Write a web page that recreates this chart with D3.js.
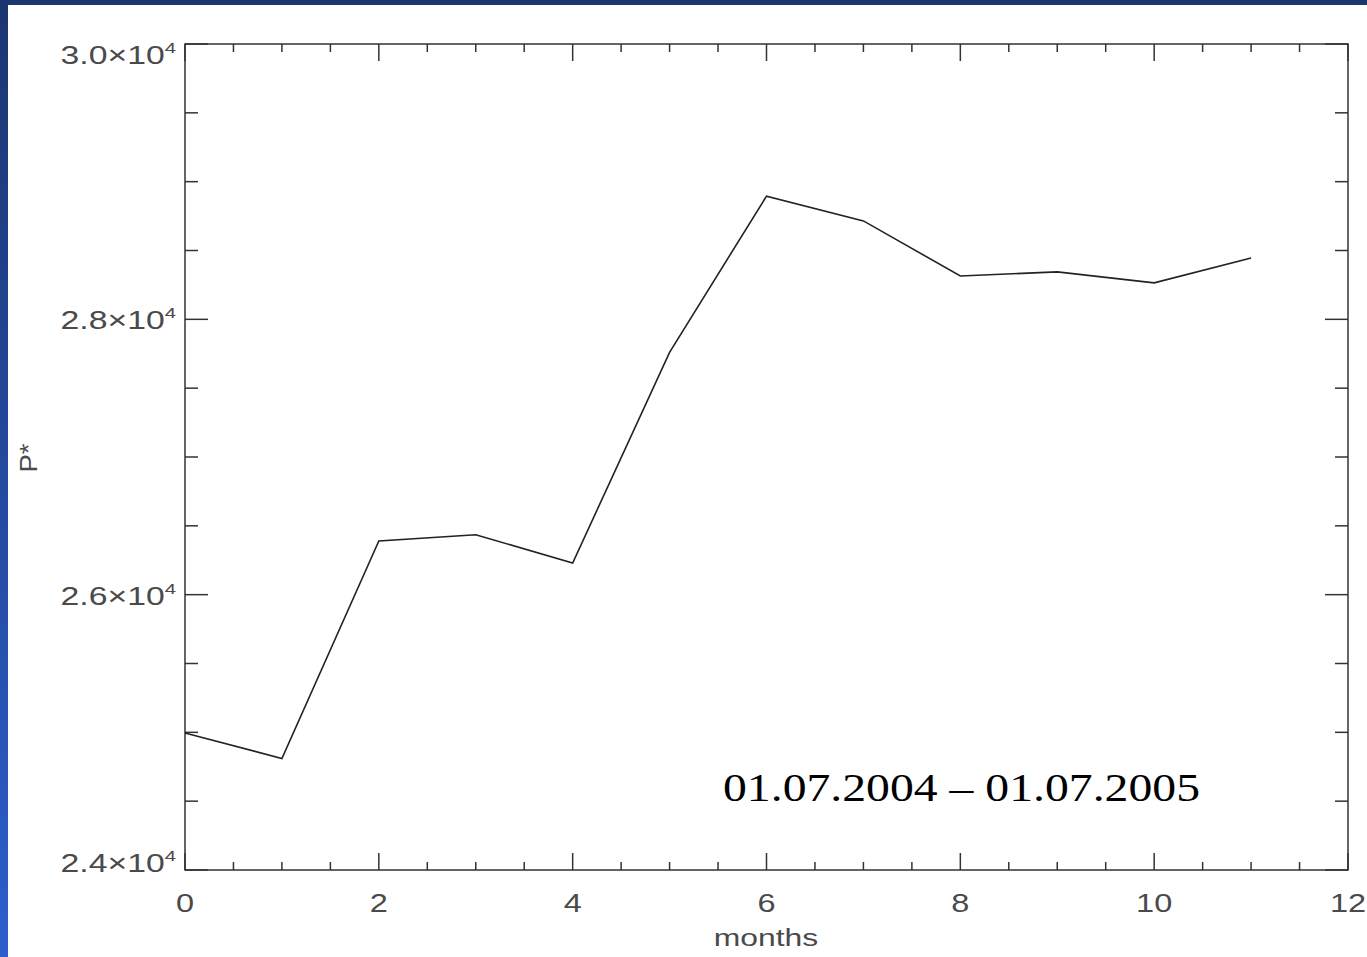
<!DOCTYPE html>
<html>
<head>
<meta charset="utf-8">
<script src="https://cdn.jsdelivr.net/npm/d3@7"></script>
<style>
  body { margin: 0; padding: 0; overflow: hidden; }
  svg { display: block; }
</style>
</head>
<body>
<div class="chart"></div>
<script>
var months = [0, 1, 2, 3, 4, 5, 6, 7, 8, 9, 10, 11];
var pstar = [24995, 24810, 26390, 26435, 26230, 27760, 28895, 28715, 28315, 28345, 28265, 28445];
var yLabels = [24000, 26000, 28000, 30000];
var xLabels = [0, 2, 4, 6, 8, 10, 12];
var annotation = "01.07.2004 \u2013 01.07.2005";

var width = 1367, height = 957;

var svg = d3.select(".chart")
  .append("svg")
  .attr("width", width)
  .attr("height", height);

// slide background
var defs = svg.append("defs");
var grad = defs.append("linearGradient")
  .attr("id", "side")
  .attr("x1", 0).attr("y1", 0).attr("x2", 0).attr("y2", 1);
grad.append("stop").attr("offset", "0%").attr("stop-color", "#1b3570");
grad.append("stop").attr("offset", "100%").attr("stop-color", "#2c5ecc");

svg.append("rect").attr("width", width).attr("height", height).attr("fill", "url(#side)");
svg.append("rect").attr("x", 0).attr("y", 0).attr("width", width).attr("height", 5).attr("fill", "#1b3670");
svg.append("rect").attr("x", 8).attr("y", 5).attr("width", width - 8).attr("height", height - 5).attr("fill", "#ffffff");

var plotLeft = 185, plotRight = 1348, plotTop = 44, plotBottom = 870;

var x = d3.scaleLinear().domain([0, 12]).range([plotLeft, plotRight]);
var y = d3.scaleLinear().domain([24000, 30000]).range([plotBottom, plotTop]);

var axisColor = "#333";
var labelColor = "#4a4a4a";
var font = "'Liberation Sans', Arial, sans-serif";
var stretch = 1.3; // the labels in the picture are drawn wide

var g = svg.append("g");

// frame
g.append("rect")
  .attr("x", plotLeft).attr("y", plotTop)
  .attr("width", plotRight - plotLeft).attr("height", plotBottom - plotTop)
  .attr("fill", "none")
  .attr("stroke", axisColor)
  .attr("stroke-width", 1.5);

// x ticks (bottom and top, pointing inward)
var xMinor = d3.range(0, 12.01, 0.5);
xMinor.forEach(function (v) {
  var major = Math.abs(v % 2) < 1e-9;
  var len = major ? 17 : 8;
  g.append("line")
    .attr("x1", x(v)).attr("x2", x(v))
    .attr("y1", plotBottom).attr("y2", plotBottom - len)
    .attr("stroke", axisColor).attr("stroke-width", 1.5);
  g.append("line")
    .attr("x1", x(v)).attr("x2", x(v))
    .attr("y1", plotTop).attr("y2", plotTop + len)
    .attr("stroke", axisColor).attr("stroke-width", 1.5);
});

// y ticks (left and right, pointing inward)
var yMinor = d3.range(24000, 30001, 500);
yMinor.forEach(function (v) {
  var major = v % 2000 === 0;
  var len = major ? 23 : 13;
  g.append("line")
    .attr("x1", plotLeft).attr("x2", plotLeft + len)
    .attr("y1", y(v)).attr("y2", y(v))
    .attr("stroke", axisColor).attr("stroke-width", 1.5);
  g.append("line")
    .attr("x1", plotRight).attr("x2", plotRight - len)
    .attr("y1", y(v)).attr("y2", y(v))
    .attr("stroke", axisColor).attr("stroke-width", 1.5);
});

// x tick labels
g.selectAll("text.xl")
  .data(xLabels)
  .enter().append("text")
  .attr("class", "xl")
  .attr("transform", function (d) { return "translate(" + x(d) + ",912) scale(" + stretch + ",1)"; })
  .attr("text-anchor", "middle")
  .attr("font-family", font)
  .attr("font-size", 25)
  .attr("fill", labelColor)
  .text(function (d) { return d; });

// y tick labels: a.b×10^4
var yl = g.selectAll("text.yl")
  .data(yLabels)
  .enter().append("text")
  .attr("class", "yl")
  .attr("transform", function (d) {
    var ty = Math.max(64, Math.min(872, y(d) + 10));
    return "translate(176," + ty + ") scale(" + 1.35 + ",1)";
  })
  .attr("text-anchor", "end")
  .attr("font-family", font)
  .attr("font-size", 25)
  .attr("fill", labelColor);
yl.append("tspan").text(function (d) { return (d / 10000).toFixed(1) + "\u00d710"; });
yl.append("tspan")
  .attr("font-size", 15)
  .attr("dy", -11)
  .text("4");

// axis titles
g.append("text")
  .attr("transform", "translate(766,946) scale(" + 1.33 + ",1)")
  .attr("text-anchor", "middle")
  .attr("font-family", font)
  .attr("font-size", 24)
  .attr("fill", labelColor)
  .text("months");

g.append("text")
  .attr("transform", "translate(37,458) rotate(-90) scale(1.15,1)")
  .attr("text-anchor", "middle")
  .attr("font-family", font)
  .attr("font-size", 24)
  .attr("fill", labelColor)
  .text("P*");

// data line
var line = d3.line()
  .x(function (d, i) { return x(months[i]); })
  .y(function (d) { return y(d); });

g.append("path")
  .datum(pstar)
  .attr("d", line)
  .attr("fill", "none")
  .attr("stroke", "#222")
  .attr("stroke-width", 1.6);

// annotation
g.append("text")
  .attr("x", 723).attr("y", 801)
  .attr("font-family", "'Liberation Serif', 'Times New Roman', serif")
  .attr("font-size", 41)
  .attr("textLength", 477)
  .attr("lengthAdjust", "spacingAndGlyphs")
  .attr("fill", "#000")
  .text(annotation);
</script>
</body>
</html>
